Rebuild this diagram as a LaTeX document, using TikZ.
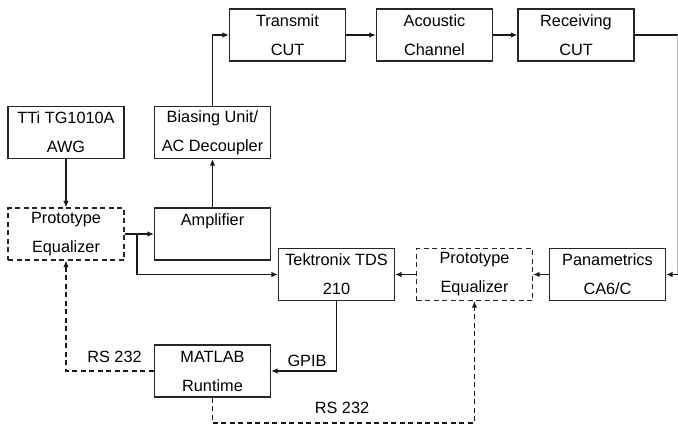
\documentclass[tikz,border=0pt]{standalone}
\usepackage{fontspec}
\setmainfont{Liberation Sans}
\usetikzlibrary{arrows.meta}
\begin{document}
\begin{tikzpicture}[x=1pt,y=-1pt,
  box/.style={draw=black!85,line width=1.2pt,minimum width=116pt,minimum height=52pt,inner sep=0pt,align=center,
    font=\fontsize{16.3}{29}\selectfont},
  dbox/.style={box,dash pattern=on 5pt off 3.5pt},
  conn/.style={draw=black!90,line width=1.4pt,-{Latex[length=6.5pt,width=5.5pt]}},
  dconn/.style={conn,dash pattern=on 5pt off 3.5pt},
  lbl/.style={font=\fontsize{16.3}{18}\selectfont,inner sep=0pt}]
\useasboundingbox (0,0) rectangle (678,428);
\fill[white] (0,0) rectangle (678,428);
% nodes
\node[box] (tx) at (287.5,35) {Transmit\\CUT};
\node[box] (ac) at (434.5,35) {Acoustic\\Channel};
\node[box] (rx) at (576,35) {Receiving\\CUT};
\node[box] (awg) at (66,132.5) {TTi TG1010A\\AWG};
\node[box] (bias) at (212.5,132.5) {Biasing Unit/\\AC Decoupler};
\node[dbox] (eq1) at (66,234) {Prototype\\Equalizer};
\node[box] (amp) at (212.5,234) {Amplifier\\\phantom{A}};
\node[box] (tek) at (336.5,274.5) {Tektronix TDS\\210};
\node[dbox] (eq2) at (474.5,274.5) {Prototype\\Equalizer};
\node[box] (pan) at (607.5,274.5) {Panametrics\\CA6/C};
\node[box] (mat) at (212.5,371) {MATLAB\\Runtime};
% coordinates
\coordinate (br) at (137,234);
\coordinate (r1) at (678,35);
\coordinate (r2) at (678,274.5);
\coordinate (d1) at (212.5,423);
% connectors
\draw[conn] (awg.south) -- (eq1.north);
\draw[conn] (eq1.east) -- (amp.west);
\draw[conn] (br) |- (tek.west);
\draw[conn] (amp.north) -- (bias.south);
\draw[conn] (bias.north) |- (tx.west);
\draw[conn] (tx.east) -- (ac.west);
\draw[conn] (ac.east) -- (rx.west);
\draw[draw=black!90,line width=1.4pt] (rx.east) -- (r1);
\draw[draw=black!25,line width=1.4pt] (r1) -- (r2);
\draw[conn] (r2) -- (pan.east);
\draw[conn] (pan.west) -- (eq2.east);
\draw[conn] (eq2.west) -- (tek.east);
\draw[conn] (tek.south) |- (mat.east);
\draw[dconn] (mat.west) -| (eq1.south);
\draw[dconn] (mat.south) -- (d1) -| (eq2.south);
% labels
\node[lbl] (gpib) at (307,361) {GPIB};
\node[lbl] (rs1) at (114.5,357) {RS 232};
\node[lbl] (rs2) at (342,408) {RS 232};
\end{tikzpicture}
\end{document}
